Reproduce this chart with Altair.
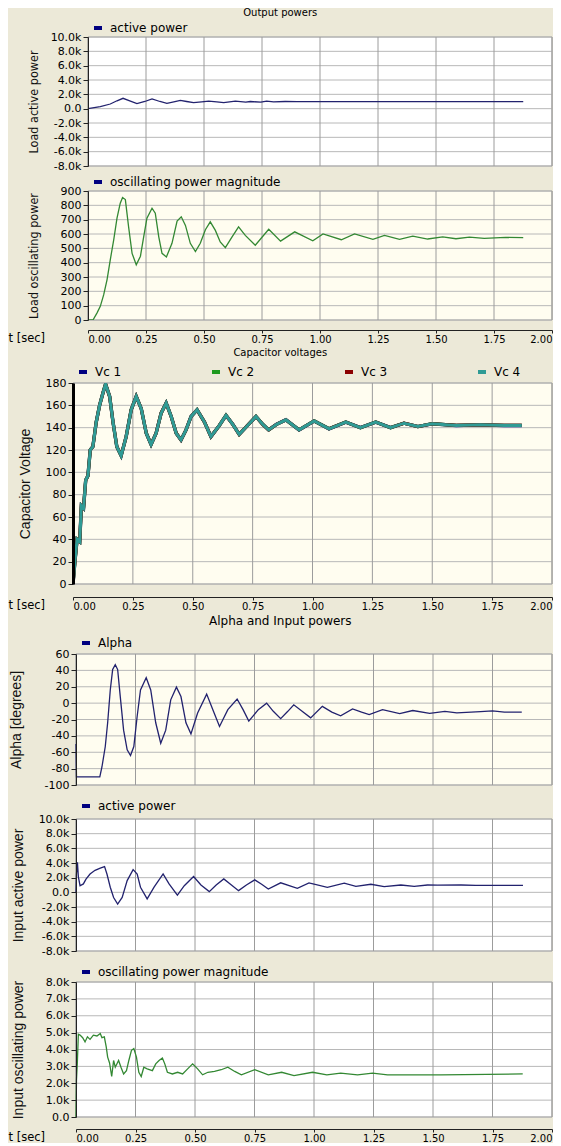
import altair as alt
import pandas as pd

# ---------------- data ----------------
x_ticks = [0.0, 0.25, 0.5, 0.75, 1.0, 1.25, 1.5, 1.75, 2.0]
power_ticks = [-8000, -6000, -4000, -2000, 0, 2000, 4000, 6000, 8000, 10000]
load_osc_ticks = [0, 100, 200, 300, 400, 500, 600, 700, 800, 900]
cap_ticks = [0, 20, 40, 60, 80, 100, 120, 140, 160, 180]
alpha_ticks = [-100, -80, -60, -40, -20, 0, 20, 40, 60]
in_osc_ticks = [0, 1000, 2000, 3000, 4000, 5000, 6000, 7000, 8000]

# (t [sec], W)
load_active = [(0.0, 0), (0.053, 300), (0.096, 650), (0.125, 1100), (0.151, 1450), (0.18, 1100),
               (0.211, 700), (0.245, 1000), (0.276, 1350), (0.31, 1000), (0.34, 750), (0.37, 950),
               (0.398, 1150), (0.425, 1000), (0.455, 850), (0.49, 950), (0.52, 1050), (0.555, 950),
               (0.585, 850), (0.61, 950), (0.635, 1050), (0.68, 900), (0.70, 1000), (0.745, 900),
               (0.77, 1050), (0.80, 950), (0.85, 1000), (0.90, 980), (1.0, 980), (1.2, 980),
               (1.5, 980), (1.876, 980)]

load_osc = [(0.0, 0), (0.0216, 0), (0.039, 50), (0.053, 95), (0.0675, 175), (0.082, 280), (0.096, 420),
            (0.111, 560), (0.125, 710), (0.139, 815), (0.149, 855), (0.161, 840), (0.175, 650),
            (0.19, 465), (0.208, 385), (0.226, 445), (0.24, 580), (0.254, 710), (0.276, 780),
            (0.29, 745), (0.305, 580), (0.319, 465), (0.338, 440), (0.362, 535), (0.384, 690),
            (0.402, 720), (0.42, 660), (0.441, 535), (0.463, 478), (0.484, 535), (0.506, 630),
            (0.527, 685), (0.549, 625), (0.57, 545), (0.592, 505), (0.621, 580), (0.649, 650),
            (0.678, 590), (0.721, 522), (0.779, 633), (0.83, 550), (0.891, 615), (0.969, 553),
            (1.013, 600), (1.092, 560), (1.149, 600), (1.228, 563), (1.278, 590), (1.343, 563),
            (1.4, 585), (1.464, 565), (1.529, 580), (1.586, 567), (1.644, 578), (1.708, 570),
            (1.8, 576), (1.876, 575)]

cap_voltage = [(0.0, 0), (0.008, 20), (0.017, 40), (0.028, 38), (0.035, 70), (0.044, 68), (0.053, 93),
               (0.0625, 97), (0.072, 120), (0.083, 123), (0.097, 145), (0.111, 160), (0.125, 171),
               (0.136, 179), (0.153, 168), (0.167, 145), (0.183, 123), (0.201, 115), (0.222, 132),
               (0.243, 156), (0.264, 168), (0.285, 157), (0.306, 135), (0.326, 125), (0.347, 135),
               (0.368, 153), (0.389, 162), (0.41, 150), (0.431, 135), (0.451, 129), (0.472, 138),
               (0.493, 150), (0.518, 156), (0.549, 145), (0.576, 132), (0.611, 142), (0.639, 151),
               (0.667, 143), (0.694, 134), (0.729, 142), (0.764, 150), (0.792, 143), (0.817, 138),
               (0.85, 143), (0.889, 147), (0.944, 138), (1.007, 146), (1.069, 139), (1.139, 145),
               (1.2, 140), (1.264, 145), (1.326, 140), (1.382, 144), (1.44, 141), (1.5, 143.5),
               (1.6, 142), (1.7, 142.5), (1.8, 142), (1.874, 142)]

alpha = [(0.0, -50), (0.002, -90), (0.1, -90), (0.109, -78), (0.123, -53), (0.133, -24), (0.144, 16),
         (0.154, 41), (0.165, 47), (0.175, 41), (0.186, 8), (0.2, -33), (0.215, -57), (0.229, -64),
         (0.243, -53), (0.257, -16), (0.271, 16), (0.295, 31), (0.314, 16), (0.335, -24), (0.356, -49),
         (0.377, -33), (0.398, 4), (0.422, 19.5), (0.441, 8), (0.462, -24), (0.483, -37.5),
         (0.511, -12), (0.549, 11), (0.575, -8), (0.603, -28.5), (0.638, -8), (0.677, 5), (0.702, -8),
         (0.726, -22), (0.766, -8), (0.801, 0), (0.829, -10), (0.86, -19), (0.89, -10), (0.915, -2),
         (0.95, -10), (0.986, -18), (1.035, -4), (1.075, -11), (1.112, -15.5), (1.162, -7), (1.2, -11),
         (1.232, -14), (1.288, -8), (1.36, -12.7), (1.415, -9), (1.486, -12.5), (1.55, -10),
         (1.6, -12), (1.7, -10.5), (1.75, -9.5), (1.8, -11), (1.873, -11)]

input_active = [(0.0, 0), (0.002, 2500), (0.006, 4100), (0.01, 2100), (0.017, 900), (0.031, 1150),
                (0.042, 1800), (0.059, 2500), (0.08, 3000), (0.102, 3300), (0.12, 3500), (0.13, 2500),
                (0.144, 700), (0.158, -700), (0.175, -1600), (0.194, -700), (0.215, 1600), (0.24, 3100),
                (0.257, 2500), (0.271, 700), (0.299, -900), (0.328, 700), (0.366, 2500), (0.391, 1150),
                (0.426, -370), (0.455, 900), (0.494, 2150), (0.525, 1000), (0.56, 100), (0.589, 1000),
                (0.621, 1830), (0.653, 1000), (0.683, 230), (0.716, 1000), (0.751, 1700), (0.78, 1100),
                (0.808, 460), (0.86, 1300), (0.93, 550), (0.979, 1280), (1.056, 690), (1.127, 1240),
                (1.176, 820), (1.239, 1100), (1.295, 780), (1.365, 1000), (1.421, 800), (1.477, 1000),
                (1.52, 970), (1.618, 1000), (1.68, 950), (1.878, 950)]

input_osc = [(0.0, 0), (0.002, 2200), (0.0056, 3200), (0.0099, 4900), (0.017, 4850), (0.028, 4700),
             (0.038, 4450), (0.048, 4750), (0.059, 4600), (0.073, 4850), (0.088, 4800), (0.102, 4950),
             (0.109, 4700), (0.119, 4750), (0.127, 4150), (0.133, 3550), (0.141, 3200), (0.15, 2400),
             (0.158, 3350), (0.165, 2950), (0.179, 3350), (0.189, 2950), (0.2, 2550), (0.212, 2750),
             (0.222, 3350), (0.233, 3950), (0.243, 4050), (0.254, 3550), (0.264, 2650), (0.274, 2400),
             (0.285, 2950), (0.299, 2850), (0.321, 2750), (0.335, 3150), (0.349, 3350), (0.363, 3500),
             (0.373, 3150), (0.384, 2650), (0.405, 2550), (0.427, 2650), (0.448, 2550), (0.469, 2850),
             (0.49, 3150), (0.511, 2850), (0.532, 2500), (0.554, 2650), (0.582, 2700), (0.61, 2800),
             (0.638, 2950), (0.667, 2700), (0.695, 2500), (0.751, 2800), (0.808, 2500), (0.864, 2650),
             (0.916, 2450), (0.994, 2650), (1.054, 2500), (1.112, 2600), (1.183, 2500), (1.246, 2600),
             (1.309, 2500), (1.421, 2500), (1.533, 2500), (1.877, 2550)]

vc_names = ["Vc 1", "Vc 2", "Vc 3", "Vc 4"]

# ---------------- styling ----------------
FONT = "DejaVu Sans"
NARROW = "Liberation Sans Narrow, DejaVu Sans Condensed, Liberation Sans"
TFONT = "Liberation Sans"
BG = "#ECE9D8"
NAVY = "#22226E"
LEG_NAVY = "#000080"
GREEN = "#338833"
CREAM = "#FFFDF0"
VGRID = "#9C9C9C"
HGRID = "#B8B8B8"
K_EXPR = "datum.value == 0 ? '0.0' : (datum.value < 0 ? '-' : '') + format(abs(datum.value) / 1000, '.1f') + 'k'"
INT_EXPR = "(datum.value < 0 ? '-' : '') + abs(datum.value)"
X_EXPR = "format(datum.value, '.2f')"
W = 479          # plot width shared by every panel (right edges line up)


def frame(pairs, name):
    return pd.DataFrame({"t": [p[0] for p in pairs], "v": [p[1] for p in pairs], "series": name})


def x_axis(show, offset=0):
    if not show:
        return None
    return alt.Axis(values=x_ticks, labelExpr=X_EXPR, grid=False, domainColor="#222", tickColor="#222",
                    tickSize=3, labelPadding=1, offset=offset, labelFont=FONT, labelFontSize=10,
                    labelColor="#000", labelFlush=1,
                    title="t [sec]", titleX=-65, titleY=2, titleAlign="left", titleBaseline="top",
                    titleAngle=0, titleFont=FONT, titleFontSize=11.5, titleFontWeight="normal",
                    titleColor="#000", zindex=1)


def y_axis(vals, title, title_x, expr, tfont, tsize, x0, dwidth=1, dcolor="#222"):
    return alt.Axis(values=vals, grid=False, offset=-x0, domainColor=dcolor, domainWidth=dwidth,
                    tickColor="#222", tickSize=5, labelPadding=2, labelFont=FONT, labelFontSize=11,
                    labelColor="#000", labelExpr=expr, title=title, titleX=title_x, titleBaseline="middle",
                    titleFont=tfont, titleFontSize=tsize, titleFontWeight="normal", titleColor="#111",
                    zindex=1)


def legend(lx, ly, cols=1, colpad=10):
    return alt.Legend(orient="none", legendX=lx, legendY=ly, direction="horizontal", columns=cols,
                      columnPadding=colpad, gridAlign="all", title=None, symbolType="M-1,0H1",
                      symbolSize=64, symbolStrokeWidth=4, labelFont=FONT, labelFontSize=12,
                      labelColor="#000", labelLimit=400, padding=0, labelOffset=6)


def panel(df, names, crange, ydom, yticks, yax, xax, lg, h, fill, x0, stroke=None, size_range=None, sw=1.3):
    xs = alt.Scale(domain=[0, 2], range=[x0, W], nice=False, zero=False)
    ys = alt.Scale(domain=ydom, nice=False, zero=False)
    box = pd.DataFrame({"t": [0.0], "t2": [2.0], "v": [ydom[0]], "v2": [ydom[1]]})
    bg = alt.Chart(box).mark_rect(fill=fill, stroke="#A0A0A0", strokeWidth=1).encode(
        x=alt.X("t:Q", scale=xs, axis=xax), x2="t2:Q",
        y=alt.Y("v:Q", scale=ys, axis=yax), y2="v2:Q")
    hgrid = alt.Chart(pd.DataFrame({"v": yticks, "t": 0.0, "t2": 2.0})).mark_rule(
        color=HGRID, strokeWidth=1).encode(
        y=alt.Y("v:Q", scale=ys, axis=yax), x=alt.X("t:Q", scale=xs, axis=xax), x2="t2:Q")
    vgrid = alt.Chart(pd.DataFrame({"t": x_ticks, "v": ydom[0], "v2": ydom[1]})).mark_rule(
        color=VGRID, strokeWidth=1).encode(
        x=alt.X("t:Q", scale=xs, axis=xax), y=alt.Y("v:Q", scale=ys, axis=yax), y2="v2:Q")
    mk = dict(clip=True, strokeWidth=sw)
    if stroke:
        mk["stroke"] = stroke
    enc = dict(
        x=alt.X("t:Q", scale=xs, axis=xax),
        y=alt.Y("v:Q", scale=ys, axis=yax),
        color=alt.Color("series:N", scale=alt.Scale(domain=names, range=crange), legend=lg),
    )
    if size_range:
        enc["size"] = alt.Size("series:N", scale=alt.Scale(domain=names, range=size_range), legend=None)
    line = alt.Chart(df).mark_line(**mk).encode(**enc)
    return alt.layer(bg, hgrid, vgrid, line).properties(width=W, height=h)


# ---------------- group 1 : output powers (t=0 at +15 px) ----------------
X1 = 15
p1 = panel(frame(load_active, "active power"), ["active power"], [LEG_NAVY], [-8000, 10000], power_ticks,
           y_axis(power_ticks, "Load active power", -55, K_EXPR, NARROW, 12.5, X1),
           x_axis(False), legend(X1 + 4, -15), 129, "#FFFFFF", X1, stroke=NAVY)
p2 = panel(frame(load_osc, "oscillating power magnitude"), ["oscillating power magnitude"], [LEG_NAVY],
           [0, 900], load_osc_ticks,
           y_axis(load_osc_ticks, "Load oscillating power", -55, INT_EXPR, NARROW, 12.5, X1),
           x_axis(True, offset=10), legend(X1 + 4, -15), 129, CREAM, X1, stroke=GREEN)
g1 = alt.vconcat(p1, p2, spacing=5, title=alt.TitleParams(
    "Output powers", fontSize=10, font=FONT, fontWeight="normal", anchor="middle", offset=4, color="#000")
).resolve_scale(color="independent", x="independent", y="independent")

# ---------------- group 2 : capacitor voltages (t=0 at origin) ----------------
cap_df = pd.concat([frame(cap_voltage, n) for n in vc_names], ignore_index=True)
p3 = panel(cap_df, vc_names, ["#000080", "#1E9A1E", "#8B0000", "#2F9B95"], [0, 180], cap_ticks,
           y_axis(cap_ticks, "Capacitor Voltage", -48, INT_EXPR, TFONT, 14, 0, dwidth=3, dcolor="#000"),
           x_axis(True, offset=13), legend(4, -17, cols=4, colpad=82), 201, CREAM, 0,
           size_range=[3.4, 3.0, 3.0, 2.8])
g2 = alt.vconcat(p3, title=alt.TitleParams(
    "Capacitor voltages", fontSize=10, font=FONT, fontWeight="normal", anchor="middle", offset=8,
    color="#000")).resolve_scale(color="independent", x="independent", y="independent")

# ---------------- group 3 : alpha and input powers (t=0 at +3 px) ----------------
X3 = 3
p4 = panel(frame(alpha, "Alpha"), ["Alpha"], [LEG_NAVY], [-100, 60], alpha_ticks,
           y_axis(alpha_ticks, "Alpha [degrees]", -60, INT_EXPR, TFONT, 14, X3),
           x_axis(False), legend(X3 + 4, -17), 131, CREAM, X3, stroke=NAVY)
p5 = panel(frame(input_active, "active power"), ["active power"], [LEG_NAVY], [-8000, 10000], power_ticks,
           y_axis(power_ticks, "Input active power", -58, K_EXPR, TFONT, 14, X3),
           x_axis(False), legend(X3 + 4, -19), 132, "#FFFFFF", X3, stroke=NAVY)
p6 = panel(frame(input_osc, "oscillating power magnitude"), ["oscillating power magnitude"], [LEG_NAVY],
           [0, 8000], in_osc_ticks,
           y_axis(in_osc_ticks, "Input oscillating power", -58, K_EXPR, TFONT, 14, X3),
           x_axis(True, offset=12), legend(X3 + 4, -16), 135, "#FFFFFF", X3, stroke=GREEN)
g3 = alt.vconcat(p4, p5, p6, spacing=10, title=alt.TitleParams(
    "Alpha and Input powers", fontSize=12, font=FONT, fontWeight="normal", anchor="middle", offset=9,
    color="#000")).resolve_scale(color="independent", x="independent", y="independent")

chart = alt.vconcat(g1, g2, g3, spacing=4).resolve_scale(
    color="independent", x="independent", y="independent").properties(
    padding=0, background=BG).configure_view(strokeWidth=0)

chart.save("out.html", embed_options={"renderer": "svg", "actions": False})
